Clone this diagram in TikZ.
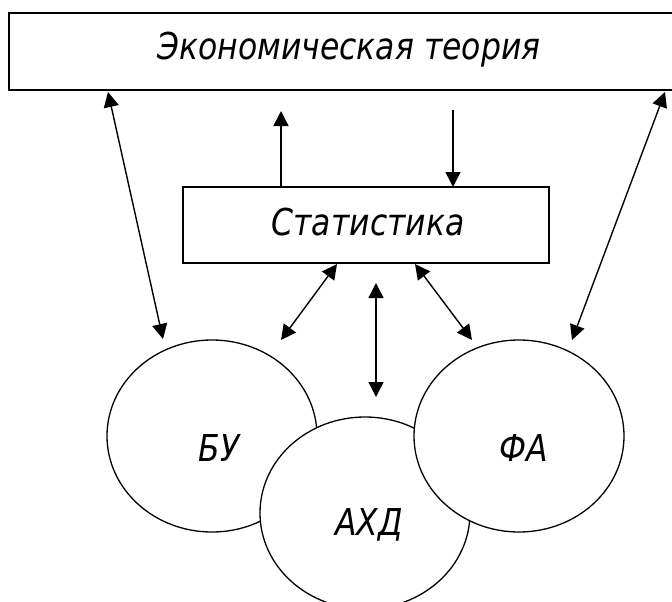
\documentclass[tikz,border=0pt]{standalone}
\usepackage{fontspec}
\setmainfont{DejaVu Sans}[FakeStretch=0.85]
\usetikzlibrary{arrows.meta,shapes.geometric}
\begin{document}
\begin{tikzpicture}[x=1pt,y=-1pt,
  box/.style={draw, line width=1.8pt, rectangle, inner sep=0pt},
  circ/.style={draw, fill=white, ellipse, line width=1.3pt, inner sep=0pt},
  lbl/.style={font=\itshape\fontsize{37}{40}\selectfont, inner sep=0pt},
  arr/.style={line width=1.4pt, -{Triangle[length=15pt,width=15pt]}},
  darr/.style={line width=1.4pt, {Triangle[length=15pt,width=15pt]}-{Triangle[length=15pt,width=15pt]}}]
\useasboundingbox (0,0) rectangle (672,602);
\clip (0,0) rectangle (672,602);
\fill[white] (0,0) rectangle (672,602);

% boxes
\node[box, minimum width=681pt, minimum height=77pt] (econ) at (349.5,51.5) {};
\node[lbl] (econT) at (349,50) {Экономическая теория};
\node[box, minimum width=366pt, minimum height=76pt] (stat) at (366,225) {};
\node[lbl] (statT) at (368,222) {Статистика};

% circles
\node[circ, minimum width=210pt, minimum height=192pt] (bu) at (212,436) {};
\node[lbl] (buT) at (219,448) {БУ};
\node[circ, minimum width=210pt, minimum height=192pt] (ahd) at (365,513) {};
\node[lbl] (ahdT) at (369,525) {АХД};
\node[circ, minimum width=210pt, minimum height=192pt] (fa) at (519,436) {};
\node[lbl] (faT) at (524,448) {ФА};

% free ends of connectors
\coordinate (lt) at (108,92);
\coordinate (lb) at (163,339);
\coordinate (rt) at (665,92);
\coordinate (rb) at (572,340);
\coordinate (dlt) at (337,264);
\coordinate (dlb) at (281,340);
\coordinate (drt) at (415,264);
\coordinate (drb) at (472,340);
\coordinate (vt) at (376,283);
\coordinate (vb) at (376,397);
\coordinate (ub) at (281,187);
\coordinate (ut) at (281,111);
\coordinate (dt) at (453,110);
\coordinate (db) at (453,187);

\draw[darr] (lt) -- (lb);
\draw[darr] (rt) -- (rb);
\draw[darr] (dlt) -- (dlb);
\draw[darr] (drt) -- (drb);
\draw[darr] (vt) -- (vb);
\draw[arr] (ub) -- (ut);
\draw[arr] (dt) -- (db);
\end{tikzpicture}
\end{document}
